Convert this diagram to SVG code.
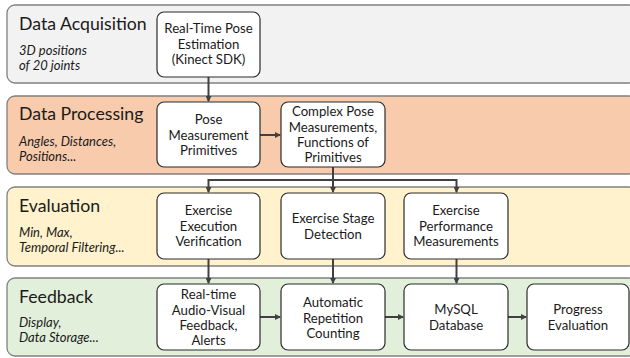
<svg xmlns="http://www.w3.org/2000/svg" width="630" height="358" viewBox="0 0 630 358">
<defs>
<marker id="ah" markerWidth="6" markerHeight="6" refX="5" refY="3" orient="auto" markerUnits="userSpaceOnUse">
<path d="M0,0 L6,3 L0,6 Z" fill="#404040"/>
</marker>
<style>
.band{stroke:#808080;stroke-width:1.3}
.box{fill:#fff;stroke:#2b2b2b;stroke-width:1.2}
.h{font-family:Lato,"Noto Sans",sans-serif;font-size:17.7px;fill:#1a1a1a}
.s{font-family:Lato,"Noto Sans",sans-serif;font-size:13px;font-style:italic;fill:#1a1a1a}
.t{font-family:Lato,"Noto Sans",sans-serif;font-size:13.2px;fill:#1a1a1a;text-anchor:middle}
.c{fill:none;stroke:#404040;stroke-width:2}
</style>
</defs>
<g id="band-acq">
<rect class="band" x="7" y="5" width="630" height="78" rx="8" fill="#f2f2f2"/>
<text class="h" x="19" y="30">Data Acquisition</text>
<text class="s" x="19" y="55">3D positions</text>
<text class="s" x="19" y="70">of 20 joints</text>
</g>
<g id="band-proc">
<rect class="band" x="7" y="96" width="630" height="78" rx="8" fill="#f8cbad"/>
<text class="h" x="19" y="120">Data Processing</text>
<text class="s" x="19" y="146">Angles, Distances,</text>
<text class="s" x="19" y="161">Positions...</text>
</g>
<g id="band-eval">
<rect class="band" x="7" y="187" width="630" height="79" rx="8" fill="#fff2cc"/>
<text class="h" x="19" y="212">Evaluation</text>
<text class="s" x="19" y="237">Min, Max,</text>
<text class="s" x="19" y="252">Temporal Filtering...</text>
</g>
<g id="band-fb">
<rect class="band" x="7" y="278" width="630" height="78" rx="8" fill="#e2efda"/>
<text class="h" x="19" y="303">Feedback</text>
<text class="s" x="19" y="327">Display,</text>
<text class="s" x="19" y="342">Data Storage...</text>
</g>
<g id="connectors">
<path class="c" d="M208.5,77 V101" marker-end="url(#ah)"/>
<path class="c" d="M260,135 H280" marker-end="url(#ah)"/>
<path class="c" d="M333,167 V180"/>
<path class="c" d="M208.5,180 H456.5"/>
<path class="c" d="M208.5,179 V192" marker-end="url(#ah)"/>
<path class="c" d="M333,179 V192" marker-end="url(#ah)"/>
<path class="c" d="M456.5,179 V192" marker-end="url(#ah)"/>
<path class="c" d="M208.5,259 V283" marker-end="url(#ah)"/>
<path class="c" d="M333,259 V283" marker-end="url(#ah)"/>
<path class="c" d="M456.5,259 V283" marker-end="url(#ah)"/>
<path class="c" d="M260,317 H280" marker-end="url(#ah)"/>
<path class="c" d="M385,317 H403" marker-end="url(#ah)"/>
<path class="c" d="M508,317 H526" marker-end="url(#ah)"/>
</g>
<g id="n-pose-est">
<rect class="box" x="157" y="12" width="103" height="65" rx="7"/>
<text class="t" x="208.5" y="33">Real-Time Pose</text>
<text class="t" x="208.5" y="48.5">Estimation</text>
<text class="t" x="208.5" y="64">(Kinect SDK)</text>
</g>
<g id="n-primitives">
<rect class="box" x="157" y="102" width="103" height="65" rx="7"/>
<text class="t" x="208.5" y="124">Pose</text>
<text class="t" x="208.5" y="139.5">Measurement</text>
<text class="t" x="208.5" y="155">Primitives</text>
</g>
<g id="n-complex">
<rect class="box" x="281" y="102" width="104" height="65" rx="7"/>
<text class="t" x="333" y="116">Complex Pose</text>
<text class="t" x="333" y="131.5">Measurements,</text>
<text class="t" x="333" y="147">Functions of</text>
<text class="t" x="333" y="162">Primitives</text>
</g>
<g id="n-verif">
<rect class="box" x="157" y="193" width="103" height="66" rx="7"/>
<text class="t" x="208.5" y="215">Exercise</text>
<text class="t" x="208.5" y="230.5">Execution</text>
<text class="t" x="208.5" y="246">Verification</text>
</g>
<g id="n-stage">
<rect class="box" x="281" y="193" width="104" height="66" rx="7"/>
<text class="t" x="333" y="223">Exercise Stage</text>
<text class="t" x="333" y="238.5">Detection</text>
</g>
<g id="n-perf">
<rect class="box" x="404" y="193" width="104" height="66" rx="7"/>
<text class="t" x="456" y="215">Exercise</text>
<text class="t" x="456" y="230.5">Performance</text>
<text class="t" x="456" y="246">Measurements</text>
</g>
<g id="n-feedback">
<rect class="box" x="157" y="284" width="103" height="66" rx="7"/>
<text class="t" x="208.5" y="299">Real-time</text>
<text class="t" x="208.5" y="314.5">Audio-Visual</text>
<text class="t" x="208.5" y="330">Feedback,</text>
<text class="t" x="208.5" y="345">Alerts</text>
</g>
<g id="n-count">
<rect class="box" x="281" y="284" width="104" height="66" rx="7"/>
<text class="t" x="333" y="307">Automatic</text>
<text class="t" x="333" y="322.5">Repetition</text>
<text class="t" x="333" y="338">Counting</text>
</g>
<g id="n-mysql">
<rect class="box" x="404" y="284" width="104" height="66" rx="7"/>
<text class="t" x="456" y="314">MySQL</text>
<text class="t" x="456" y="329.5">Database</text>
</g>
<g id="n-progress">
<rect class="box" x="527" y="284" width="102" height="66" rx="7"/>
<text class="t" x="578" y="314">Progress</text>
<text class="t" x="578" y="329.5">Evaluation</text>
</g>
</svg>
